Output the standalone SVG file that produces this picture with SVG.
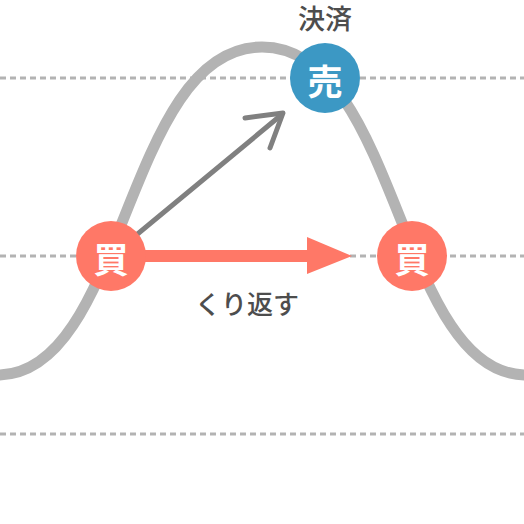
<svg xmlns="http://www.w3.org/2000/svg" width="524" height="524" viewBox="0 0 524 524">
<style>
.grid{stroke:#b3b3b3;stroke-width:3;stroke-dasharray:6 4;fill:none}
.wave{stroke:#b3b3b3;stroke-width:11;fill:none}
.lbl{font-family:"Noto Sans CJK JP","Noto Sans",sans-serif;fill:#4d4d4d;font-weight:500;text-anchor:middle;dominant-baseline:central}
.nt{font-family:"Noto Sans CJK JP","Noto Sans",sans-serif;fill:#fff;font-weight:bold;font-size:35px;text-anchor:middle;dominant-baseline:central}
.buy{fill:#ff7867}
.sell{fill:#3c98c4}
</style>
<g id="grid">
<line class="grid" x1="0" y1="78" x2="524" y2="78"/>
<line class="grid" x1="0" y1="256" x2="524" y2="256"/>
<line class="grid" x1="0" y1="434" x2="524" y2="434"/>
</g>
<g id="wave">
<path class="wave" d="M-2,375 C126,375 125,47 262,47 C399,47 398,375 526,375"/>
</g>
<g id="connectors">
<line x1="111" y1="256" x2="280" y2="116" stroke="#808080" stroke-width="5" stroke-linecap="round"/>
<polyline points="245,118 283,113 270,148" fill="none" stroke="#808080" stroke-width="5" stroke-linecap="round" stroke-linejoin="round"/>
<line x1="111" y1="256" x2="310" y2="256" stroke="#ff7867" stroke-width="12"/>
<polygon points="307,237 352,256 307,274" fill="#ff7867"/>
</g>
<g id="node-sell">
<circle class="sell" cx="325" cy="78" r="35"/>
<text class="nt" x="325" y="79">売</text>
</g>
<g id="node-buy1">
<circle class="buy" cx="111" cy="256" r="35"/>
<text class="nt" x="111" y="257">買</text>
</g>
<g id="node-buy2">
<circle class="buy" cx="412" cy="256" r="35"/>
<text class="nt" x="412" y="257">買</text>
</g>
<g id="labels">
<text class="lbl" x="325" y="17" font-size="27">決済</text>
<text class="lbl" x="247" y="302" font-size="26">くり返す</text>
</g>
</svg>
